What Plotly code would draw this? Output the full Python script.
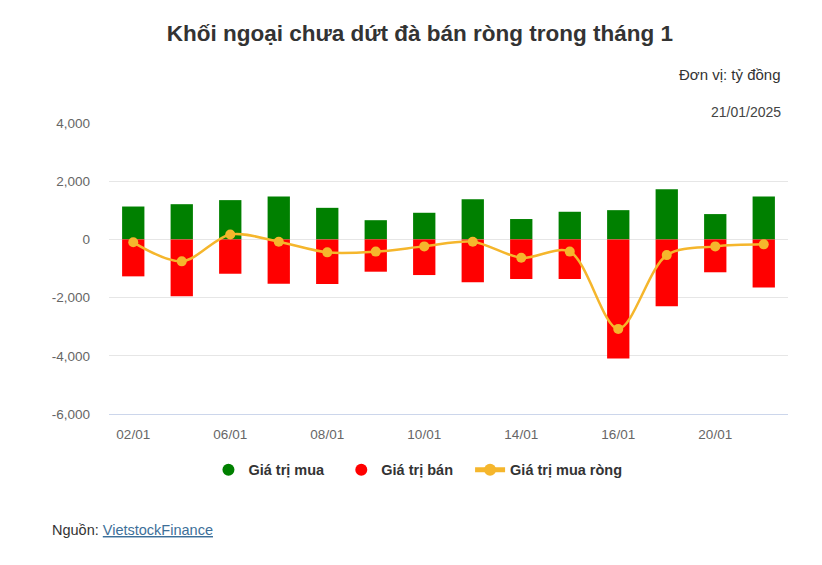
import plotly.graph_objects as go

dates = ["02/01", "03/01", "06/01", "07/01", "08/01", "09/01", "10/01",
         "13/01", "14/01", "15/01", "16/01", "17/01", "20/01", "21/01"]
buy = [1130, 1210, 1350, 1470, 1085, 660, 915, 1380, 700, 950, 1005, 1725, 870, 1475]
sell = [-1270, -1955, -1180, -1520, -1530, -1110, -1225, -1475, -1360, -1360, -4090, -2295, -1130, -1655]
net = [-100, -755, 170, -80, -445, -420, -240, -80, -630, -420, -3075, -540, -240, -170]
tick_labels = dates[0::2]
y_ticks = [-6000, -4000, -2000, 0, 2000, 4000]
y_tick_text = ["-6,000", "-4,000", "-2,000", "0", "2,000", "4,000"]

GREEN = "#008000"
RED = "#ff0000"
GOLD = "#f5b62c"
FONT = "Liberation Sans, Arial, sans-serif"
NB = "\u00a0"

fig = go.Figure()
fig.add_trace(go.Bar(x=dates, y=buy, name="Giá trị mua", marker=dict(color=GREEN, line=dict(width=0)),
                     showlegend=False))
fig.add_trace(go.Bar(x=dates, y=sell, name="Giá trị bán", marker=dict(color=RED, line=dict(width=0)),
                     showlegend=False))
fig.add_trace(go.Scatter(x=dates, y=net, name="Giá trị mua ròng", mode="lines+markers",
                         line=dict(color=GOLD, width=2.5, shape="spline", smoothing=0.9),
                         marker=dict(color=GOLD, size=10), showlegend=False))
# legend entries (circle symbols as in the reference)
fig.add_trace(go.Scatter(x=[None], y=[None], mode="markers", name="Giá trị mua" + NB * 3,
                         marker=dict(color=GREEN, size=14, symbol="circle")))
fig.add_trace(go.Scatter(x=[None], y=[None], mode="markers", name="Giá trị bán" + NB * 3,
                         marker=dict(color=RED, size=14, symbol="circle")))
fig.add_trace(go.Scatter(x=[None], y=[None], mode="lines+markers", name="Giá trị mua ròng",
                         line=dict(color=GOLD, width=2.5), marker=dict(color=GOLD, size=8)))

fig.update_layout(
    width=822, height=565,
    margin=dict(l=101, r=42, t=115, b=159),
    paper_bgcolor="white", plot_bgcolor="white",
    barmode="relative", bargap=0.54,
    font=dict(family=FONT, color="#666666", size=13),
    title=dict(text="<b>Khối ngoại chưa dứt đà bán ròng trong tháng 1</b>",
               x=0.501, xanchor="center", y=0.956, yanchor="middle",
               font=dict(size=22.5, color="#333333", family=FONT)),
    showlegend=True,
    legend=dict(orientation="h", x=0.455, xanchor="center", y=-0.192, yanchor="middle",
                font=dict(size=14.5, color="#333333", family=FONT, weight="bold"),
                itemsizing="constant", tracegroupgap=0, itemwidth=30),
    xaxis=dict(type="category", range=[-0.5, len(dates) - 0.5],
               tickmode="array", tickvals=tick_labels, ticktext=tick_labels,
               showgrid=False, showline=True, linecolor="#ccd6eb", linewidth=1,
               ticks="", tickfont=dict(size=13.5, color="#666666"), ticklabelstandoff=8),
    yaxis=dict(range=[-6000, 4000], tickmode="array", tickvals=y_ticks, ticktext=y_tick_text,
               showgrid=True, gridcolor="#e6e6e6", gridwidth=1,
               zeroline=True, zerolinecolor="#e6e6e6", zerolinewidth=1,
               showline=False, ticks="", tickfont=dict(size=13.5, color="#666666"),
               ticklabelstandoff=18),
    annotations=[
        dict(text="Đơn vị: tỷ đồng", xref="paper", yref="paper", x=0.993, y=1.0,
             xanchor="right", yanchor="middle", yshift=49,
             showarrow=False, font=dict(size=15, color="#333333", family=FONT)),
        dict(text="21/01/2025", xref="paper", yref="paper", x=0.993, y=1.0,
             xanchor="right", yanchor="middle", yshift=11,
             showarrow=False, font=dict(size=14, color="#444444", family=FONT)),
        dict(text="Nguồn: <a href='https://finance.vietstock.vn' style='color:#3d6f99'><span style='color:#3d6f99;text-decoration:underline'>VietstockFinance</span></a>",
             xref="paper", yref="paper", x=-0.087, y=-0.399,
             xanchor="left", yanchor="middle", showarrow=False,
             font=dict(size=14.5, color="#333333", family=FONT)),
    ],
)
fig.write_html("out.html")
